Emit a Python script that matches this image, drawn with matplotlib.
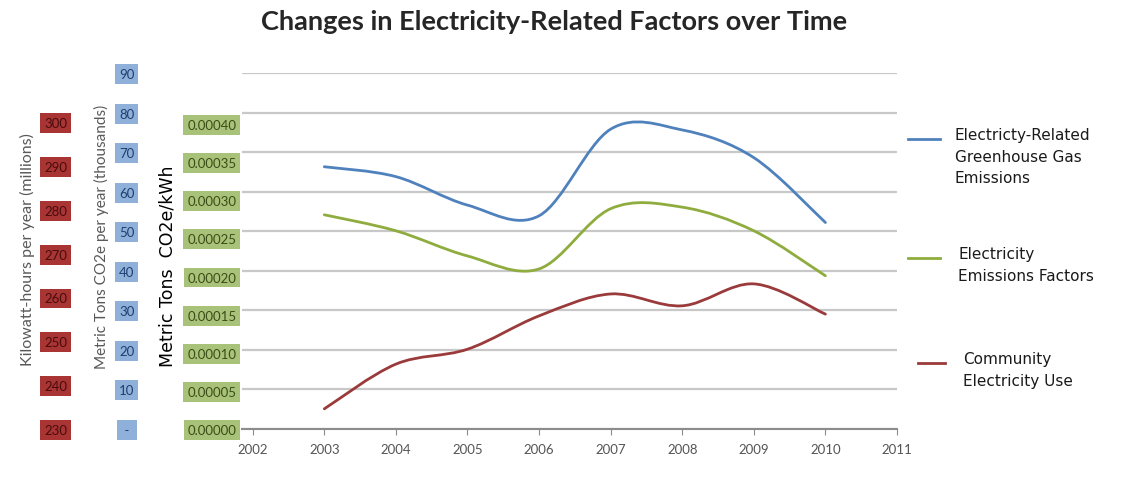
import matplotlib
matplotlib.use("Agg")
import matplotlib.pyplot as plt
from matplotlib.path import Path
from matplotlib.patches import PathPatch
from matplotlib.lines import Line2D
import numpy as np

# data
years = [2003, 2004, 2005, 2006, 2007, 2008, 2009, 2010]
ghg_thousand_t = [66.3, 63.8, 56.6, 53.9, 75.8, 75.6, 68.6, 52.2]          # blue axis
emis_factor = [0.000281, 0.000260, 0.000227, 0.000210,
               0.000289, 0.000291, 0.000260, 0.000201]                       # green axis
kwh_millions = [234.6, 244.8, 248.2, 255.8, 260.8, 258.1, 263.1, 256.2]     # red axis

x_ticks = list(range(2002, 2012))
blue_ticks = list(range(0, 100, 10))
green_ticks = [i * 0.00005 for i in range(9)]
red_ticks = list(range(230, 310, 10))

series_names = ["Electricty-Related\nGreenhouse Gas\nEmissions",
                "Electricity\nEmissions Factors",
                "Community\nElectricity Use"]
line_colors = ["#4f81bd", "#8fac3e", "#9b3a3a"]

W, H = 1121, 485
fig = plt.figure(figsize=(W / 100, H / 100), dpi=100)
fig.patch.set_facecolor("white")


def fx(px):
    return px / W


def fy(py):
    return 1 - py / H


left, right, top, bottom = 242, 897, 74, 430
rect = [fx(left), fy(bottom), fx(right - left), (bottom - top) / H]

ax = fig.add_axes(rect)           # blue scale + grid
ax_g = fig.add_axes(rect, sharex=ax)
ax_r = fig.add_axes(rect, sharex=ax)
for a in (ax_g, ax_r):
    a.patch.set_alpha(0)
    for s in a.spines.values():
        s.set_visible(False)
    a.tick_params(axis="x", bottom=False, labelbottom=False)

for s in ("top", "right", "left"):
    ax.spines[s].set_visible(False)
ax.spines["bottom"].set_color("#8c8c8c")
ax.spines["bottom"].set_linewidth(1.5)

ax.set_xlim(2001.85, 2011)
ax.set_ylim(0, 90)
ax_g.set_ylim(0, 0.000467)
ax_r.set_ylim(230, 311.2)

ax.set_yticks(blue_ticks)
ax.yaxis.grid(True, color="#c8c8c8", lw=1.6)
ax.set_axisbelow(True)
ax.set_xticks(x_ticks)
ax.tick_params(axis="x", length=4, color="#8c8c8c", labelsize=9.5,
               labelcolor="#555555", pad=6)
for lbl in ax.get_xticklabels():
    lbl.set_fontfamily("Lato")

box = dict(boxstyle="square,pad=0.3", lw=0)
ax.set_yticklabels([" - " if v == 0 else str(v) for v in blue_ticks])
ax.tick_params(axis="y", length=0, pad=83, labelsize=9.5, labelcolor="#1f3f73")
for lbl in ax.get_yticklabels():
    lbl.set_bbox(dict(box, facecolor="#8fb0d8"))
    lbl.set_fontfamily("Lato")
    lbl.set_horizontalalignment("center")

ax_g.set_yticks(green_ticks)
ax_g.set_yticklabels([f"{v:.5f}" for v in green_ticks])
ax_g.tick_params(axis="y", length=0, pad=4, labelsize=9.5, labelcolor="#3b4d17")
for lbl in ax_g.get_yticklabels():
    lbl.set_bbox(dict(box, facecolor="#a9c27a"))
    lbl.set_fontfamily("Lato")

ax_r.set_yticks(red_ticks)
ax_r.set_yticklabels([str(v) for v in red_ticks])
ax_r.tick_params(axis="y", length=0, pad=134, labelsize=9.5, labelcolor="#4a0c0c")
for lbl in ax_r.get_yticklabels():
    lbl.set_bbox(dict(box, facecolor="#a83434"))
    lbl.set_fontfamily("Lato")
    lbl.set_horizontalalignment("center")


def smooth_path(xs, ys):
    # Catmull-Rom style smoothing, like the spreadsheet's smoothed line
    pts = np.column_stack([xs, ys]).astype(float)
    n = len(pts)
    verts = [pts[0]]
    codes = [Path.MOVETO]
    for i in range(n - 1):
        p0 = pts[max(i - 1, 0)]
        p1 = pts[i]
        p2 = pts[i + 1]
        p3 = pts[min(i + 2, n - 1)]
        c1 = p1 + (p2 - p0) / 6
        c2 = p2 - (p3 - p1) / 6
        verts += [c1, c2, p2]
        codes += [Path.CURVE4] * 3
    return Path(verts, codes)


for a, vals, col in ((ax, ghg_thousand_t, line_colors[0]),
                     (ax_g, emis_factor, line_colors[1]),
                     (ax_r, kwh_millions, line_colors[2])):
    a.add_patch(PathPatch(smooth_path(years, vals), fill=False,
                          edgecolor=col, lw=2.0, capstyle="round"))

# axis titles
fig.text(fx(27), fy(250), "Kilowatt-hours per year (millions)", rotation=90,
         ha="center", va="center", fontsize=11.5, color="#595959", family="Lato")
fig.text(fx(101), fy(237), "Metric Tons CO2e per year (thousands)", rotation=90,
         ha="center", va="center", fontsize=11, color="#595959", family="Lato")
fig.text(fx(167), fy(266), "Metric Tons  CO2e/kWh", rotation=90,
         ha="center", va="center", fontsize=12.5, color="black",
         family="DejaVu Sans")

fig.text(fx(554), fy(22), "Changes in Electricity-Related Factors over Time",
         ha="center", va="center", fontsize=19.5, fontweight="bold",
         color="#262626", family="Lato")

# legend
leg_pos = [(908, 940, 955, 140), (908, 940, 958, 259), (918, 945, 963, 364)]
for (x0, x1, tx, ty), name, col in zip(leg_pos, series_names, line_colors):
    fig.add_artist(Line2D([fx(x0), fx(x1)], [fy(ty), fy(ty)], color=col, lw=2.0))
    fig.text(fx(tx), fy(ty - 12), name, ha="left", va="top", fontsize=11,
             color="#1a1a1a", family="DejaVu Sans", linespacing=1.55)

fig.savefig("out.png", dpi=100)
